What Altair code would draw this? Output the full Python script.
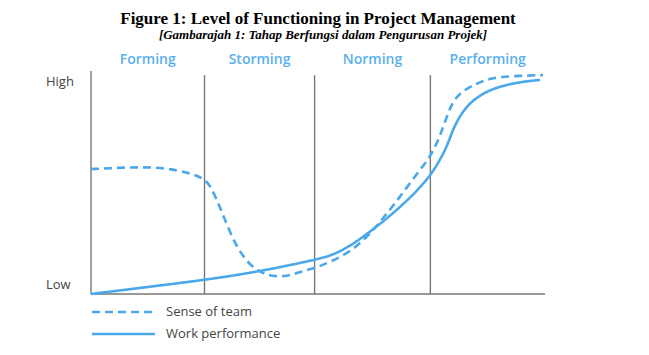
import altair as alt
import pandas as pd

# Phase boundaries (x in stage units) and stage names
stages = ["Forming", "Storming", "Norming", "Performing"]
bounds = [0.0, 1.0, 1.97, 2.99, 4.0]

# Sense of team (dashed)
team_x = [0.000, 0.211, 0.432, 0.652, 0.872, 0.987, 1.048, 1.110, 1.163, 1.242, 1.313,
          1.401, 1.489, 1.595, 1.727, 1.841, 1.974, 2.106, 2.282, 2.432, 2.546, 2.661,
          2.784, 2.899, 2.987, 3.048, 3.093, 3.137, 3.181, 3.251, 3.366, 3.515, 3.718, 3.982]
team_y = [56.8, 57.3, 57.7, 57.3, 55.0, 52.7, 49.5, 42.7, 35.9, 25.9, 19.1,
          13.2, 10.0, 8.0, 8.0, 10.0, 11.8, 14.5, 19.1, 25.9, 32.7, 40.0,
          48.6, 56.4, 62.3, 68.6, 74.5, 80.9, 86.8, 91.4, 95.0, 98.2, 99.1, 99.5]

# Work performance (solid)
work_x = [0.000, 0.502, 1.004, 1.463, 1.974, 2.132, 2.282, 2.432, 2.590, 2.722, 2.855,
          2.987, 3.075, 3.137, 3.181, 3.233, 3.313, 3.427, 3.577, 3.780, 3.956]
work_y = [0.0, 3.2, 6.4, 10.0, 15.5, 17.7, 21.8, 27.3, 33.6, 39.5, 45.9,
          53.6, 60.9, 67.3, 73.6, 79.5, 85.6, 90.5, 94.1, 96.4, 97.3]

series_names = ["Sense of team", "Work performance"]
level_labels = ["High", "Low"]
level_y = [96.4, 4.1]
title_text = "Figure 1: Level of Functioning in Project Management"
subtitle_text = "[Gambarajah 1: Tahap Berfungsi dalam Pengurusan Projek]"

BLUE = "#4aa8ea"
LABEL_BLUE = "#5ab0ee"
GRAY = "#777777"
TEXT = "#444444"
SANS = "Open Sans"
DASHES = [[8, 5], [1, 0]]

curves = pd.DataFrame(
    [{"x": a, "y": b, "series": series_names[0]} for a, b in zip(team_x, team_y)]
    + [{"x": a, "y": b, "series": series_names[1]} for a, b in zip(work_x, work_y)]
)

xs = alt.Scale(domain=[0, 4], nice=False, zero=False)
ys = alt.Scale(domain=[0, 100], nice=False, zero=False)


def X(field):
    return alt.X(field, scale=xs, axis=None)


def Y(field):
    return alt.Y(field, scale=ys, axis=None)


lines = alt.Chart(curves).mark_line(color=BLUE, strokeWidth=2.6, interpolate="basis").encode(
    x=X("x:Q"),
    y=Y("y:Q"),
    strokeDash=alt.StrokeDash(
        "series:N", scale=alt.Scale(domain=series_names, range=DASHES), legend=None
    ),
)

# Phase boundary rules
bdf = pd.DataFrame({"x": bounds[1:4], "top": [99.5] * 3, "bot": [0] * 3})
brules = alt.Chart(bdf).mark_rule(color=GRAY, strokeWidth=1.4).encode(
    x=X("x:Q"), y=Y("bot:Q"), y2="top:Q"
)
leftaxis = alt.Chart(pd.DataFrame({"x": [bounds[0]], "bot": [0], "top": [101.4]})).mark_rule(
    color=GRAY, strokeWidth=1.4
).encode(x=X("x:Q"), y=Y("bot:Q"), y2="top:Q")
baseline = alt.Chart(pd.DataFrame({"x": [bounds[0]], "x2": [bounds[-1]], "y": [0]})).mark_rule(
    color=GRAY, strokeWidth=1.4
).encode(x=X("x:Q"), x2="x2:Q", y=Y("y:Q"))

# Stage labels centered in each phase
sdf = pd.DataFrame({
    "stage": stages,
    "x": [(bounds[i] + bounds[i + 1]) / 2 for i in range(4)],
    "y": [106.4] * 4,
})
stage_text = alt.Chart(sdf).mark_text(
    font=SANS, fontSize=14, fontWeight=600, color=LABEL_BLUE, baseline="middle", align="center"
).encode(x=X("x:Q"), y=Y("y:Q"), text="stage:N")

ldf = pd.DataFrame({"label": level_labels, "y": level_y, "x": [0, 0]})
level_text = alt.Chart(ldf).mark_text(
    font=SANS, fontSize=13, color=TEXT, align="left", baseline="middle", dx=-45
).encode(x=X("x:Q"), y=Y("y:Q"), text="label:N")

# Legend drawn as marks (one row per series)
legend_layers = []
for i, name in enumerate(series_names):
    row_y = 238 + 22 * i
    ldata = pd.DataFrame({"name": [name]})
    legend_layers.append(
        alt.Chart(ldata).mark_rule(color=BLUE, strokeWidth=2.6, strokeDash=DASHES[i]).encode(
            x=alt.value(1), x2=alt.value(64), y=alt.value(row_y)
        )
    )
    legend_layers.append(
        alt.Chart(ldata).mark_text(
            font=SANS, fontSize=13, color=TEXT, align="left", baseline="middle"
        ).encode(x=alt.value(75), y=alt.value(row_y), text="name:N")
    )

tdf = pd.DataFrame({"t": [title_text]})
title_mark = alt.Chart(tdf).mark_text(
    font="Liberation Serif", fontSize=17, fontWeight="bold", color="black",
    align="center", baseline="alphabetic"
).encode(x=alt.value(227), y=alt.value(-50), text="t:N")
sub_df = pd.DataFrame({"t": [subtitle_text]})
subtitle_mark = alt.Chart(sub_df).mark_text(
    font="Liberation Serif", fontSize=13, fontWeight="bold", fontStyle="italic", color="black",
    align="center", baseline="alphabetic"
).encode(x=alt.value(232), y=alt.value(-35), text="t:N")

chart = alt.layer(
    brules, leftaxis, baseline, lines, stage_text, level_text, title_mark, subtitle_mark,
    *legend_layers
).properties(
    width=454,
    height=220,
    autosize=alt.AutoSizeParams(type="none"),
    padding={"left": 83, "top": 66, "right": 90, "bottom": 55},
).configure_view(stroke=None)

chart.save("out.html", embed_options={"renderer": "svg", "actions": False})
